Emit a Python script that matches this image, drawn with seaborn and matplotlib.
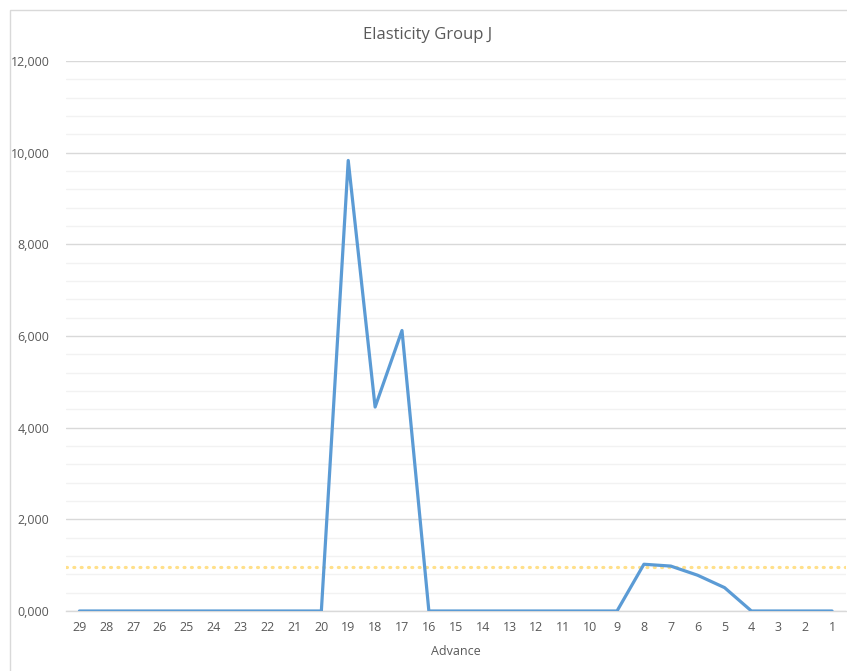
import matplotlib
matplotlib.use("Agg")
import matplotlib.pyplot as plt
import matplotlib.ticker as mticker
from matplotlib.patches import Rectangle
import seaborn as sns
import pandas as pd

# Elasticity values per advance step (29 down to 1)
advance = [29, 28, 27, 26, 25, 24, 23, 22, 21, 20, 19, 18, 17, 16, 15,
           14, 13, 12, 11, 10, 9, 8, 7, 6, 5, 4, 3, 2, 1]
elasticity = [0, 0, 0, 0, 0, 0, 0, 0, 0, 0, 9830, 4450, 6120, 0, 0,
              0, 0, 0, 0, 0, 0, 1020, 980, 780, 510, 0, 0, 0, 0]
reference_level = 955

sns.set_theme(style="white")
plt.rcParams["font.family"] = ["Open Sans", "DejaVu Sans"]

df = pd.DataFrame({
    "pos": range(len(advance)),
    "advance": [str(a) for a in advance],
    "elasticity": elasticity,
})

fig = plt.figure(figsize=(8.47, 6.71), dpi=100)
ax = fig.add_axes([66 / 847, 1 - 611 / 671, (845.5 - 66) / 847, 550 / 671])

# chart border
fig.patches.append(Rectangle((10 / 847, -0.1), 1.2, 1 - 10 / 671 + 0.1,
                             transform=fig.transFigure, fill=False,
                             edgecolor="#d9d9d9", linewidth=1.0, zorder=0))

ax.axhline(reference_level, color="#ffe08a", linewidth=2.3,
           linestyle=(0, (0.3, 2.0)), dash_capstyle="round", zorder=2)

sns.lineplot(data=df, x="pos", y="elasticity", ax=ax, color="#5b9bd5",
             linewidth=2.3, zorder=3)

ax.set_xlim(-0.5, len(advance) - 0.5)
ax.set_ylim(0, 12000)
ax.set_xticks(df["pos"])
ax.set_xticklabels(df["advance"])
ax.yaxis.set_major_locator(mticker.MultipleLocator(2000))
ax.yaxis.set_minor_locator(mticker.MultipleLocator(400))
ax.yaxis.set_major_formatter(mticker.FuncFormatter(lambda v, p: f"{v / 1000:.3f}".replace(".", ",")))

ax.grid(which="major", axis="y", color="#d9d9d9", linewidth=1.0)
ax.grid(which="minor", axis="y", color="#f2f2f2", linewidth=1.0)
ax.set_axisbelow(True)

for side in ["left", "right", "top"]:
    ax.spines[side].set_visible(False)
ax.spines["bottom"].set_color("#d9d9d9")
ax.spines["bottom"].set_linewidth(1.0)

ax.tick_params(axis="both", which="both", length=0, colors="#595959", labelsize=9)
ax.tick_params(axis="y", pad=12)
ax.tick_params(axis="x", pad=7)

ax.set_xlabel("Advance", color="#595959", fontsize=9, labelpad=8)
ax.set_ylabel("")
fig.text(428 / 847, 1 - 35 / 671, "Elasticity Group J", color="#595959",
         fontsize=12, ha="center", va="center")

fig.savefig("out.png", dpi=100, facecolor="white")
